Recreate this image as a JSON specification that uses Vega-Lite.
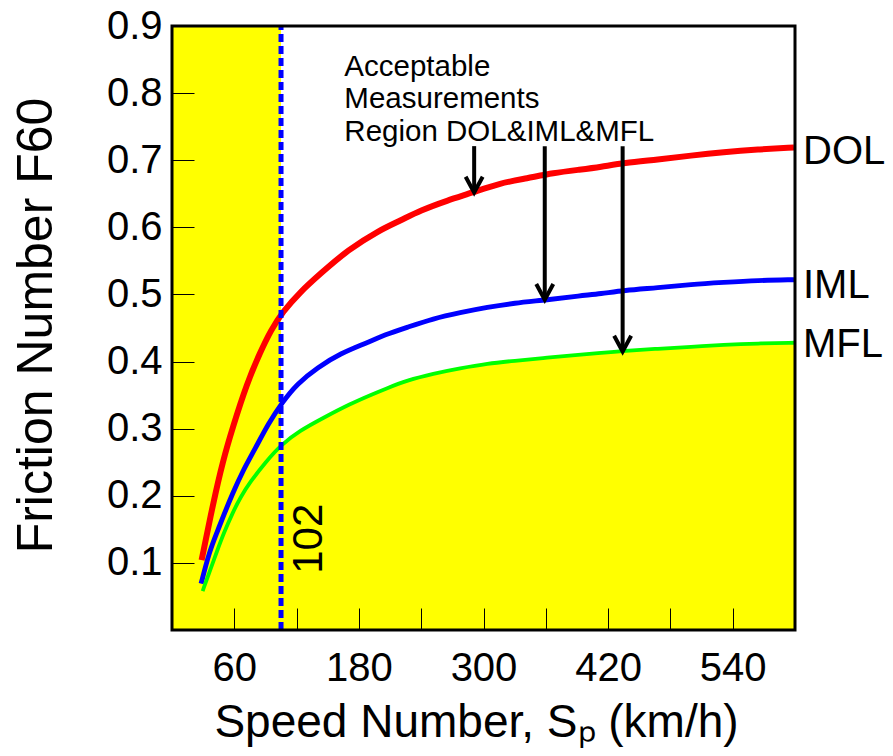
{
  "$schema": "https://vega.github.io/schema/vega-lite/v6.json",
  "width": 623,
  "height": 604,
  "autosize": {"type": "none"},
  "padding": {"left": 172, "top": 26, "right": 98, "bottom": 126},
  "background": "white",
  "config": {"view": {"stroke": null}, "font": "Liberation Sans"},
  "datasets": {
    "curves": [
      {"series": "DOL", "speed": 28.5, "f60": 0.104},
      {"series": "DOL", "speed": 39.5, "f60": 0.188},
      {"series": "DOL", "speed": 49, "f60": 0.252},
      {"series": "DOL", "speed": 58.5, "f60": 0.302},
      {"series": "DOL", "speed": 72, "f60": 0.367},
      {"series": "DOL", "speed": 85, "f60": 0.414},
      {"series": "DOL", "speed": 95, "f60": 0.446},
      {"series": "DOL", "speed": 106.5, "f60": 0.474},
      {"series": "DOL", "speed": 123, "f60": 0.503},
      {"series": "DOL", "speed": 143, "f60": 0.531},
      {"series": "DOL", "speed": 169, "f60": 0.566},
      {"series": "DOL", "speed": 200, "f60": 0.596},
      {"series": "DOL", "speed": 220, "f60": 0.61},
      {"series": "DOL", "speed": 239, "f60": 0.625},
      {"series": "DOL", "speed": 265, "f60": 0.64},
      {"series": "DOL", "speed": 290, "f60": 0.652},
      {"series": "DOL", "speed": 316, "f60": 0.666},
      {"series": "DOL", "speed": 342, "f60": 0.673},
      {"series": "DOL", "speed": 367, "f60": 0.681},
      {"series": "DOL", "speed": 393, "f60": 0.686},
      {"series": "DOL", "speed": 413, "f60": 0.69},
      {"series": "DOL", "speed": 435, "f60": 0.696},
      {"series": "DOL", "speed": 468, "f60": 0.701},
      {"series": "DOL", "speed": 500, "f60": 0.707},
      {"series": "DOL", "speed": 531, "f60": 0.712},
      {"series": "DOL", "speed": 564, "f60": 0.716},
      {"series": "DOL", "speed": 599, "f60": 0.719},
      {"series": "IML", "speed": 28, "f60": 0.069},
      {"series": "IML", "speed": 36, "f60": 0.117},
      {"series": "IML", "speed": 43.5, "f60": 0.146},
      {"series": "IML", "speed": 49, "f60": 0.168},
      {"series": "IML", "speed": 58.5, "f60": 0.204},
      {"series": "IML", "speed": 68.5, "f60": 0.238},
      {"series": "IML", "speed": 80, "f60": 0.27},
      {"series": "IML", "speed": 93, "f60": 0.308},
      {"series": "IML", "speed": 106, "f60": 0.339},
      {"series": "IML", "speed": 120.5, "f60": 0.367},
      {"series": "IML", "speed": 140, "f60": 0.391},
      {"series": "IML", "speed": 162, "f60": 0.412},
      {"series": "IML", "speed": 188, "f60": 0.428},
      {"series": "IML", "speed": 205, "f60": 0.44},
      {"series": "IML", "speed": 226.5, "f60": 0.451},
      {"series": "IML", "speed": 251.5, "f60": 0.464},
      {"series": "IML", "speed": 277.5, "f60": 0.473},
      {"series": "IML", "speed": 304, "f60": 0.481},
      {"series": "IML", "speed": 329, "f60": 0.487},
      {"series": "IML", "speed": 361.5, "f60": 0.492},
      {"series": "IML", "speed": 393, "f60": 0.498},
      {"series": "IML", "speed": 413, "f60": 0.501},
      {"series": "IML", "speed": 435, "f60": 0.506},
      {"series": "IML", "speed": 468, "f60": 0.51},
      {"series": "IML", "speed": 500, "f60": 0.515},
      {"series": "IML", "speed": 531, "f60": 0.518},
      {"series": "IML", "speed": 564, "f60": 0.521},
      {"series": "IML", "speed": 599, "f60": 0.522},
      {"series": "MFL", "speed": 29.5, "f60": 0.058},
      {"series": "MFL", "speed": 36, "f60": 0.086},
      {"series": "MFL", "speed": 43, "f60": 0.116},
      {"series": "MFL", "speed": 50, "f60": 0.145},
      {"series": "MFL", "speed": 58.5, "f60": 0.175},
      {"series": "MFL", "speed": 66, "f60": 0.198},
      {"series": "MFL", "speed": 75, "f60": 0.22},
      {"series": "MFL", "speed": 90, "f60": 0.25},
      {"series": "MFL", "speed": 105, "f60": 0.276},
      {"series": "MFL", "speed": 123, "f60": 0.297},
      {"series": "MFL", "speed": 145.5, "f60": 0.316},
      {"series": "MFL", "speed": 171.5, "f60": 0.337},
      {"series": "MFL", "speed": 194, "f60": 0.352},
      {"series": "MFL", "speed": 205, "f60": 0.359},
      {"series": "MFL", "speed": 226.5, "f60": 0.372},
      {"series": "MFL", "speed": 251.5, "f60": 0.382},
      {"series": "MFL", "speed": 277.5, "f60": 0.39},
      {"series": "MFL", "speed": 304, "f60": 0.397},
      {"series": "MFL", "speed": 329, "f60": 0.401},
      {"series": "MFL", "speed": 361.5, "f60": 0.406},
      {"series": "MFL", "speed": 393, "f60": 0.41},
      {"series": "MFL", "speed": 413, "f60": 0.413},
      {"series": "MFL", "speed": 435, "f60": 0.416},
      {"series": "MFL", "speed": 468, "f60": 0.419},
      {"series": "MFL", "speed": 500, "f60": 0.422},
      {"series": "MFL", "speed": 531, "f60": 0.425},
      {"series": "MFL", "speed": 564, "f60": 0.427},
      {"series": "MFL", "speed": 600, "f60": 0.428}
    ],
    "arrows": [
      {"speed": 291, "top": 0.721, "tip": 0.652},
      {"speed": 359, "top": 0.721, "tip": 0.492},
      {"speed": 434, "top": 0.721, "tip": 0.415}
    ],
    "ends": [
      {"series": "DOL", "speed": 600, "f60": 0.712},
      {"series": "IML", "speed": 600, "f60": 0.513},
      {"series": "MFL", "speed": 600, "f60": 0.425}
    ],
    "one": [{}]
  },
  "layer": [
    {
      "data": {"name": "one"},
      "mark": {"type": "rect", "color": "#FFFF00"},
      "encoding": {
        "x": {"datum": 0, "type": "quantitative", "scale": {"domain": [0, 600], "nice": false, "zero": false}},
        "x2": {"datum": 105},
        "y": {"datum": 0, "type": "quantitative", "scale": {"domain": [0, 0.9], "nice": false, "zero": false}},
        "y2": {"datum": 0.9}
      }
    },
    {
      "data": {"name": "curves"},
      "transform": [{"filter": "datum.series == 'MFL' && datum.speed >= 105"}],
      "mark": {"type": "area", "color": "#FFFF00", "interpolate": "basis"},
      "encoding": {
        "x": {"field": "speed", "type": "quantitative"},
        "y": {"field": "f60", "type": "quantitative"},
        "y2": {"datum": 0}
      }
    },
    {
      "data": {"name": "curves"},
      "mark": {"type": "line", "interpolate": "basis", "strokeCap": "butt"},
      "encoding": {
        "x": {
          "field": "speed", "type": "quantitative",
          "axis": {
            "title": "Speed Number, Sₚ (km/h)",
            "values": [60, 120, 180, 240, 300, 360, 420, 480, 540],
            "format": "d",
            "labelExpr": "datum.value % 120 == 60 ? datum.label : ''",
            "tickSize": -22, "tickColor": "black", "tickWidth": 1,
            "labelPadding": 40, "labelFontSize": 40, "labelColor": "black",
            "labelFont": "Liberation Sans", "labelOverlap": false, "labelFlush": false,
            "domain": false, "grid": false,
            "titleFont": "Liberation Sans", "titleFontSize": 46, "titleFontWeight": "normal", "titleColor": "black",
            "titleX": 304, "titleY": 92, "titleBaseline": "middle", "titleAlign": "center",
            "zindex": 1
          }
        },
        "y": {
          "field": "f60", "type": "quantitative",
          "axis": {
            "title": "Friction Number F60",
            "values": [0.1, 0.2, 0.3, 0.4, 0.5, 0.6, 0.7, 0.8, 0.9],
            "format": ".1f",
            "tickSize": -22, "tickColor": "black", "tickWidth": 1,
            "labelPadding": 32, "labelFontSize": 40, "labelColor": "black",
            "labelFont": "Liberation Sans", "labelOverlap": false, "labelFlush": false,
            "domain": false, "grid": false,
            "titleFont": "Liberation Sans", "titleFontSize": 50, "titleFontWeight": "normal", "titleColor": "black",
            "titleAngle": 270, "titleX": -136, "titleY": 299, "titleBaseline": "middle", "titleAlign": "center",
            "zindex": 1
          }
        },
        "color": {"field": "series", "type": "nominal", "scale": {"domain": ["DOL", "IML", "MFL"], "range": ["#FF0000", "#0000FF", "#00FF00"]}, "legend": null},
        "strokeWidth": {"field": "series", "type": "nominal", "scale": {"domain": ["DOL", "IML", "MFL"], "range": [6, 3.8, 4]}, "legend": null}
      }
    },
    {
      "data": {"name": "one"},
      "mark": {"type": "rule", "color": "#0000FF", "strokeWidth": 5, "strokeDash": [8, 4]},
      "encoding": {
        "x": {"datum": 105},
        "y": {"datum": 0},
        "y2": {"datum": 0.9}
      }
    },
    {
      "data": {"name": "arrows"},
      "mark": {"type": "rule", "color": "black", "strokeWidth": 4},
      "encoding": {
        "x": {"field": "speed", "type": "quantitative"},
        "y": {"field": "top", "type": "quantitative"},
        "y2": {"field": "tip"}
      }
    },
    {
      "data": {"name": "arrows"},
      "mark": {"type": "point", "shape": "M-1,-1.85L0,0L1,-1.85", "filled": false, "stroke": "black", "strokeWidth": 4, "opacity": 1, "size": 290, "strokeJoin": "miter"},
      "encoding": {
        "x": {"field": "speed", "type": "quantitative"},
        "y": {"field": "tip", "type": "quantitative"}
      }
    },
    {
      "data": {"name": "one"},
      "mark": {"type": "text", "text": ["Acceptable", "Measurements", "Region DOL&IML&MFL"], "align": "left", "baseline": "alphabetic", "fontSize": 29.5, "lineHeight": 32.5, "color": "black", "font": "Liberation Sans"},
      "encoding": {
        "x": {"datum": 166},
        "y": {"datum": 0.826}
      }
    },
    {
      "data": {"name": "ends"},
      "mark": {"type": "text", "align": "left", "baseline": "middle", "dx": 8, "fontSize": 40, "color": "black", "font": "Liberation Sans"},
      "encoding": {
        "x": {"field": "speed", "type": "quantitative"},
        "y": {"field": "f60", "type": "quantitative"},
        "text": {"field": "series"}
      }
    },
    {
      "data": {"name": "one"},
      "mark": {"type": "text", "text": "102", "angle": 270, "align": "center", "baseline": "middle", "fontSize": 42, "color": "black", "font": "Liberation Sans"},
      "encoding": {
        "x": {"datum": 132},
        "y": {"datum": 0.136}
      }
    },
    {
      "data": {"name": "one"},
      "mark": {"type": "rect", "fillOpacity": 0, "stroke": "black", "strokeWidth": 3},
      "encoding": {
        "x": {"datum": 0},
        "x2": {"datum": 600},
        "y": {"datum": 0},
        "y2": {"datum": 0.9}
      }
    }
  ]
}
